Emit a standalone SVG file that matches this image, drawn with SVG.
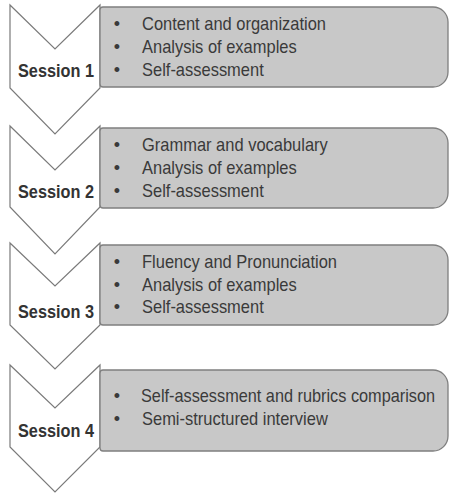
<svg xmlns="http://www.w3.org/2000/svg" width="449" height="494" viewBox="0 0 449 494">
<style>
.chev{fill:#ffffff;stroke:#7a7a7a;stroke-width:1.2;stroke-linejoin:miter}
.box{fill:#c8c8c8;stroke:#7f7f7f;stroke-width:1.3}
.lbl{font-family:"Liberation Sans",Arial,sans-serif;font-size:18px;font-weight:bold;fill:#333333;text-anchor:middle}
.item{font-family:"Liberation Sans",Arial,sans-serif;font-size:18px;fill:#3a3a3a}
.bul{font-family:"Liberation Sans",Arial,sans-serif;font-size:18px;fill:#3a3a3a;text-anchor:middle}
</style>
<rect width="449" height="494" fill="#ffffff"/>
<g id="connectors"></g>
<g id="session1">
<path class="chev" d="M10,5 L55,49 L100,5 L100,88 L55,134 L10,88 Z"/>
<path class="box" d="M103,7 L433,7 A15,15 0 0 1 448,22 L448,72 A15,15 0 0 1 433,87 L103,87 A3,3 0 0 1 100,84 L100,10 A3,3 0 0 1 103,7 Z"/>
<text class="lbl" transform="translate(56,77) scale(0.905,1)">Session 1</text>
<text class="bul" x="117" y="29.5">•</text>
<text class="bul" x="117" y="53">•</text>
<text class="bul" x="117" y="76">•</text>
<text class="item" transform="translate(142,29.5) scale(0.915,1)">Content and organization</text>
<text class="item" transform="translate(142,53) scale(0.915,1)">Analysis of examples</text>
<text class="item" transform="translate(142,76) scale(0.915,1)">Self-assessment</text>
</g>
<g id="session2">
<path class="chev" d="M10,126 L55,170 L100,126 L100,207 L55,254 L10,207 Z"/>
<path class="box" d="M103,128 L433,128 A15,15 0 0 1 448,143 L448,193 A15,15 0 0 1 433,208 L103,208 A3,3 0 0 1 100,205 L100,131 A3,3 0 0 1 103,128 Z"/>
<text class="lbl" transform="translate(56,198) scale(0.905,1)">Session 2</text>
<text class="bul" x="117" y="151">•</text>
<text class="bul" x="117" y="174">•</text>
<text class="bul" x="117" y="197">•</text>
<text class="item" transform="translate(142,151) scale(0.915,1)">Grammar and vocabulary</text>
<text class="item" transform="translate(142,174) scale(0.915,1)">Analysis of examples</text>
<text class="item" transform="translate(142,197) scale(0.915,1)">Self-assessment</text>
</g>
<g id="session3">
<path class="chev" d="M10,243 L55,286 L100,243 L100,325 L55,369 L10,325 Z"/>
<path class="box" d="M103,245 L433,245 A15,15 0 0 1 448,260 L448,310 A15,15 0 0 1 433,325 L103,325 A3,3 0 0 1 100,322 L100,248 A3,3 0 0 1 103,245 Z"/>
<text class="lbl" transform="translate(56,318) scale(0.905,1)">Session 3</text>
<text class="bul" x="117" y="268">•</text>
<text class="bul" x="117" y="290.5">•</text>
<text class="bul" x="117" y="313">•</text>
<text class="item" transform="translate(142,268) scale(0.915,1)">Fluency and Pronunciation</text>
<text class="item" transform="translate(142,290.5) scale(0.915,1)">Analysis of examples</text>
<text class="item" transform="translate(142,313) scale(0.915,1)">Self-assessment</text>
</g>
<g id="session4">
<path class="chev" d="M10,365 L55,408 L100,365 L100,447 L55,492 L10,447 Z"/>
<path class="box" d="M103,370 L433,370 A15,15 0 0 1 448,385 L448,436 A15,15 0 0 1 433,451 L103,451 A3,3 0 0 1 100,448 L100,373 A3,3 0 0 1 103,370 Z"/>
<text class="lbl" transform="translate(56,437) scale(0.905,1)">Session 4</text>
<text class="bul" x="117" y="402">•</text>
<text class="bul" x="117" y="425">•</text>
<text class="item" transform="translate(141,402) scale(0.905,1)">Self-assessment and rubrics comparison</text>
<text class="item" transform="translate(142,425) scale(0.915,1)">Semi-structured interview</text>
</g>
</svg>
